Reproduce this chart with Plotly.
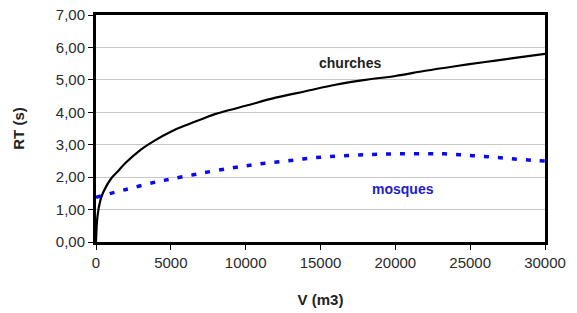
import plotly.graph_objects as go

church_v = [0, 100, 300, 500, 1000, 1500, 2000, 3000, 4000, 5000, 6000, 7000, 8000, 9000,
            10000, 12000, 14000, 16000, 18000, 20000, 22000, 24000, 26000, 28000, 30000]
church_rt = [0, 0.8, 1.3, 1.55, 1.95, 2.2, 2.45, 2.85, 3.15, 3.4, 3.6, 3.78, 3.95, 4.08,
             4.2, 4.45, 4.65, 4.85, 5.0, 5.12, 5.28, 5.42, 5.55, 5.68, 5.8]

mosque_v = [0, 2000, 4000, 5000, 6800, 9000, 10800, 12750, 14600, 16500, 18500, 20300,
            22300, 23300, 24300, 25200, 26200, 27200, 28200, 29200, 30000]
mosque_rt = [1.38, 1.62, 1.85, 1.94, 2.1, 2.28, 2.4, 2.5, 2.6, 2.66, 2.7, 2.72,
             2.72, 2.72, 2.69, 2.66, 2.63, 2.59, 2.55, 2.52, 2.5]

y_ticks = [0, 1, 2, 3, 4, 5, 6, 7]
x_ticks = [0, 5000, 10000, 15000, 20000, 25000, 30000]

FONT = "Liberation Sans, Arial, sans-serif"

fig = go.Figure()
fig.add_trace(go.Scatter(x=church_v, y=church_rt, mode="lines",
                         line=dict(color="black", width=2.2, shape="spline"),
                         showlegend=False))
fig.add_trace(go.Scatter(x=mosque_v, y=mosque_rt, mode="lines",
                         line=dict(color="#0a0af0", width=3.5, dash="5px,9px", shape="spline"),
                         showlegend=False))

fig.add_annotation(x=16971, y=5.52, text="<b>churches</b>", showarrow=False,
                   font=dict(family=FONT, size=14, color="#222222"))
fig.add_annotation(x=20512, y=1.63, text="<b>mosques</b>", showarrow=False,
                   font=dict(family=FONT, size=14, color="#2020d0"))

fig.update_layout(
    width=577, height=313,
    margin=dict(l=96, r=32, t=15, b=71),
    paper_bgcolor="white", plot_bgcolor="white",
    separators=",.",
    font=dict(family=FONT, size=15, color="#2a2a2a"),
    xaxis=dict(range=[0, 30000], tickvals=x_ticks, tickformat="d", automargin=False,
               showgrid=False, zeroline=False,
               showline=True, linecolor="black", linewidth=3, mirror=True,
               ticks="outside", ticklen=5, tickcolor="black", tickwidth=1,
               title=dict(text="<b>V (m3)</b>", font=dict(size=15, color="#222222"), standoff=25)),
    yaxis=dict(range=[0, 7], tickvals=y_ticks, tickformat=".2f", automargin=False,
               showgrid=True, gridcolor="#c8c8c8", gridwidth=1, zeroline=False,
               showline=True, linecolor="black", linewidth=3, mirror=True,
               ticks="outside", ticklen=5, tickcolor="black", tickwidth=1,
               title=dict(text="<b>RT (s)</b>", font=dict(size=15, color="#222222"), standoff=28)),
)

fig.write_html("out.html", config={"displayModeBar": False},
               post_script="document.body.style.margin='0';")
